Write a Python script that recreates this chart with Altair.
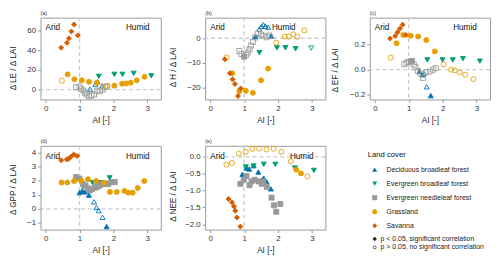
import altair as alt
import pandas as pd

LC = ["Deciduous broadleaf forest", "Evergreen broadleaf forest",
      "Evergreen needleleaf forest", "Grassland", "Savanna"]
COLORS = ["#0072B2", "#009E73", "#999999", "#E69F00", "#D55E00"]
SHAPES = ["triangle-up", "triangle-down", "square", "circle", "diamond"]
SIZES = [26, 26, 17, 19, 30]

# (AI, value, significant)
A_DBF = [(1.31, 0.5, 0), (1.47, 5.5, 0), (1.53, 8.0, 0), (1.67, 4.0, 0)]
A_EBF = [(1.57, 13.5, 1), (2.03, 15.5, 1), (2.27, 15.5, 1), (2.6, 16.5, 1), (3.12, 14.0, 1)]
A_ENF = [(0.9, 2.3, 0), (1.0, 3.0, 0), (1.05, 0.7, 0), (1.12, -1.0, 0), (1.17, -3.3, 0),
         (1.21, -5.0, 0), (1.28, -6.7, 0), (1.36, -6.0, 0), (1.43, -5.0, 0), (1.52, -1.0, 0),
         (1.6, -1.7, 0), (1.68, 0.0, 0), (1.75, 2.3, 0), (1.82, 3.3, 0)]
A_GRA = [(0.48, 9.0, 0), (0.65, 15.5, 1), (0.85, 10.5, 1), (1.07, 9.5, 1), (1.28, 8.0, 1),
         (1.52, 7.0, 1), (1.8, 3.5, 0), (2.03, 4.0, 1), (2.26, 6.0, 1), (2.38, 6.3, 1),
         (2.51, 7.0, 1), (2.69, 9.5, 1), (2.92, 13.0, 1)]
A_SAV = [(0.46, 42.5, 1), (0.63, 47.5, 1), (0.69, 52.0, 1), (0.76, 59.0, 1), (0.84, 66.0, 1), (0.95, 55.0, 1)]

B_DBF = [(1.34, 0.8, 1), (1.45, 3.8, 0), (1.51, 4.8, 0), (1.57, 5.6, 0), (1.63, 4.9, 0),
         (1.71, 4.5, 0), (1.8, 0.9, 1)]
B_EBF = [(1.45, -5.9, 1), (1.97, -3.9, 1), (2.22, -3.9, 1), (2.52, -4.3, 1), (2.98, -4.0, 0)]
B_ENF = [(0.86, -5.2, 0), (0.92, -6.4, 0), (1.0, -7.5, 1), (1.06, -6.8, 0), (1.11, -5.8, 0),
         (1.16, -4.5, 0), (1.2, -3.0, 0), (1.26, -1.5, 0), (1.32, 0.3, 0), (1.4, 1.8, 0),
         (1.5, 1.5, 0), (1.58, 1.0, 0), (1.67, 0.4, 0), (1.75, 1.1, 0)]
B_GRA = [(0.48, -7.8, 0), (0.65, -14.3, 1), (0.86, -21.6, 1), (1.05, -21.4, 1), (1.26, -22.3, 1),
         (1.5, -17.2, 1), (1.71, -12.4, 1), (1.95, -1.8, 0), (2.2, 0.7, 0), (2.32, 0.7, 0),
         (2.45, 1.6, 0), (2.57, 0.6, 0), (2.78, 3.2, 0)]
B_SAV = [(0.43, -8.6, 1), (0.58, -14.3, 1), (0.66, -16.8, 1), (0.73, -18.7, 1), (0.82, -23.6, 1), (0.9, -20.5, 1)]

C_DBF = [(1.31, -0.015, 1), (1.4, -0.04, 1), (1.45, -0.03, 0), (1.53, -0.135, 0), (1.65, -0.205, 1)]
C_EBF = [(1.55, 0.077, 1), (2.0, 0.077, 1), (2.3, 0.077, 1), (2.6, 0.087, 1), (3.1, 0.067, 1)]
C_ENF = [(0.87, 0.043, 0), (0.94, 0.055, 0), (1.0, 0.06, 0), (1.06, 0.066, 1), (1.1, 0.068, 1),
         (1.15, 0.04, 0), (1.2, 0.02, 0), (1.27, -0.01, 0), (1.35, -0.03, 0), (1.42, -0.065, 0),
         (1.52, -0.02, 0), (1.62, -0.015, 0), (1.72, 0.0, 0), (1.8, 0.012, 0)]
C_GRA = [(0.47, 0.095, 0), (0.64, 0.208, 1), (0.84, 0.273, 1), (1.06, 0.267, 1), (1.28, 0.262, 1),
         (1.52, 0.233, 1), (1.77, 0.144, 1), (2.03, 0.04, 0), (2.25, 0.0, 0), (2.36, -0.006, 0),
         (2.5, -0.022, 0), (2.67, -0.04, 0), (2.91, -0.074, 0)]
C_SAV = [(0.45, 0.245, 1), (0.6, 0.265, 1), (0.67, 0.295, 1), (0.74, 0.325, 1), (0.82, 0.355, 1), (0.92, 0.273, 1)]

D_DBF = [(1.0, 1.15, 1), (1.08, 1.28, 1), (1.16, 1.2, 1), (1.28, 0.97, 1), (1.43, 0.5, 0),
         (1.5, 0.1, 0), (1.57, -0.12, 0), (1.68, -0.6, 0), (1.8, -1.25, 1)]
D_EBF = [(1.11, 1.58, 1), (1.39, 1.85, 1), (1.5, 1.85, 1), (1.61, 1.85, 1), (1.73, 1.77, 1), (1.89, 2.2, 1)]
D_ENF = [(0.9, 2.25, 1), (1.0, 2.15, 1), (1.1, 1.75, 1), (1.18, 1.65, 1), (1.25, 1.45, 1),
         (1.3, 1.3, 1), (1.37, 1.4, 1), (1.45, 1.5, 1), (1.52, 1.55, 1), (1.6, 1.65, 1),
         (1.68, 1.75, 1), (1.77, 1.8, 1), (1.85, 1.75, 1), (1.94, 1.9, 1), (2.04, 1.9, 1)]
D_GRA = [(0.47, 1.87, 1), (0.64, 1.87, 1), (0.84, 1.97, 1), (1.05, 2.0, 1), (1.25, 2.1, 1),
         (1.49, 1.97, 1), (1.72, 1.85, 1), (1.9, 1.2, 1), (2.1, 1.2, 1), (2.33, 1.27, 1),
         (2.44, 1.15, 1), (2.57, 1.15, 1), (2.72, 1.48, 1), (2.91, 1.97, 1)]
D_SAV = [(0.46, 3.45, 1), (0.62, 3.5, 1), (0.68, 3.55, 1), (0.75, 3.7, 1), (0.83, 3.85, 1), (0.93, 3.75, 1)]

E_DBF = [(0.95, -0.52, 1), (1.07, -0.33, 1), (1.15, -0.36, 1), (1.28, -0.26, 1), (1.42, -0.45, 1),
         (1.53, -0.68, 1), (1.58, -0.63, 1), (1.66, -0.73, 1), (1.79, -0.95, 1)]
E_EBF = [(1.05, -0.3, 1), (1.28, -0.27, 1), (1.58, -0.22, 1), (1.92, -0.22, 1), (2.5, -0.33, 1), (3.06, -0.4, 1)]
E_ENF = [(0.89, -0.8, 1), (0.99, -0.68, 1), (1.07, -0.57, 1), (1.16, -0.84, 1), (1.22, -0.73, 1),
         (1.31, -0.68, 1), (1.43, -0.73, 1), (1.52, -0.8, 1), (1.57, -0.73, 1), (1.67, -0.89, 1),
         (1.81, -1.21, 1), (1.88, -1.44, 1), (1.95, -1.63, 1), (2.07, -1.4, 1)]
E_GRA = [(0.48, -0.23, 0), (0.64, -0.18, 0), (0.84, 0.1, 0), (1.05, 0.15, 0), (1.24, 0.24, 0),
         (1.44, 0.25, 0), (1.66, 0.22, 0), (1.87, 0.24, 0), (2.1, 0.15, 0), (2.38, -0.13, 0),
         (2.54, -0.38, 1), (2.68, -0.49, 1), (2.87, -0.58, 0)]
E_SAV = [(0.54, -1.25, 1), (0.64, -1.35, 1), (0.7, -1.47, 1), (0.74, -1.6, 1), (0.79, -1.8, 1), (0.89, -2.07, 1)]

LEGEND_LABELS = LC
P_LABELS = ["p < 0.05, significant correlation", "p > 0.05, no significant correlation"]

FONT = "Liberation Sans"
W = 122


def frame(series):
    rows = []
    for lc, pts in zip(LC, series):
        for ai, v, s in pts:
            rows.append({"lc": lc, "ai": ai, "val": v, "sig": s})
    return pd.DataFrame(rows)


def panel(series, label, ytitle, ydom, yticks, fmt, humid_x, title_x, title_y, h):
    df = frame(series)
    X = alt.X("ai:Q", scale=alt.Scale(domain=[-0.15, 3.4], nice=False, zero=False),
              axis=alt.Axis(values=[0, 1, 2, 3], title="AI [-]", format="d"))
    Y = alt.Y("val:Q", scale=alt.Scale(domain=ydom, nice=False, zero=False),
              axis=alt.Axis(values=yticks, format=fmt, title=ytitle,
                            titleX=title_x, titleY=title_y, titleBaseline="middle",
                            titleAlign="center"))
    ruleh = alt.Chart(pd.DataFrame({"val": [0]})).mark_rule(
        color="#cccccc", strokeDash=[4, 3], strokeWidth=1.4).encode(y=Y)
    rulev = alt.Chart(pd.DataFrame({"ai": [1]})).mark_rule(
        color="#cccccc", strokeDash=[4, 3], strokeWidth=1.4).encode(x=X)
    pts = alt.Chart(df).mark_point(strokeWidth=0.9, opacity=1).encode(
        x=X, y=Y,
        shape=alt.Shape("lc:N", scale=alt.Scale(domain=LC, range=SHAPES), legend=None),
        stroke=alt.Stroke("lc:N", scale=alt.Scale(domain=LC, range=COLORS), legend=None),
        fill=alt.condition("datum.sig == 1",
                           alt.Fill("lc:N", scale=alt.Scale(domain=LC, range=COLORS), legend=None),
                           alt.value("transparent")),
        size=alt.Size("lc:N", scale=alt.Scale(domain=LC, range=SIZES), legend=None),
    )
    arid = alt.Chart(pd.DataFrame({"ai": [0.0], "t": ["Arid"]})).mark_text(
        align="left", baseline="middle", fontSize=8.3, font=FONT, color="#111").encode(
        x=X, y=alt.value(11), text="t:N")
    humid = alt.Chart(pd.DataFrame({"ai": [humid_x], "t": ["Humid"]})).mark_text(
        align="center", baseline="middle", fontSize=8.3, font=FONT, color="#111").encode(
        x=X, y=alt.value(11), text="t:N")
    lab = alt.Chart(pd.DataFrame({"t": [label]})).mark_text(
        align="left", baseline="middle", fontSize=5.5, font=FONT, color="#333").encode(
        x=alt.value(0), y=alt.value(-5), text="t:N")
    return alt.layer(ruleh, rulev, pts, arid, humid, lab).properties(width=W, height=h)


H1 = 83
H2 = 85
pa = panel([A_DBF, A_EBF, A_ENF, A_GRA, A_SAV], "(a)", "Δ LE / Δ LAI", [-10, 73],
           [0, 20, 40, 60], "d", 2.72, -27, 51, H1)
pb = panel([B_DBF, B_EBF, B_ENF, B_GRA, B_SAV], "(b)", "Δ H / Δ LAI", [-25, 8.4],
           [-20, -10, 0], "d", 2.17, -32, 50, H1)
pc = panel([C_DBF, C_EBF, C_ENF, C_GRA, C_SAV], "(c)", "Δ EF / Δ LAI", [-0.235, 0.41],
           [-0.2, 0.0, 0.2], ".1f", 2.66, -35, 53, H1)
pd_ = panel([D_DBF, D_EBF, D_ENF, D_GRA, D_SAV], "(d)", "Δ GPP / Δ LAI", [-1.47, 4.47],
            [-1, 0, 1, 2, 3, 4], "d", 2.72, -27, 44, H2)
pe = panel([E_DBF, E_EBF, E_ENF, E_GRA, E_SAV], "(e)", "Δ NEE / Δ LAI", [-2.16, 0.33],
           [-2.0, -1.5, -1.0, -0.5, 0.0], ".1f", 2.7, -32, 51, H2)

# legend panel
SLOT_DOM = [-0.7, 5.28]
leg_df = pd.DataFrame({"lc": LEGEND_LABELS, "slot": [1, 2, 3, 4, 5]})
p_df = pd.DataFrame({"t": P_LABELS, "slot": [5.95, 6.55], "sig": [1, 0]})
ttl_df = pd.DataFrame({"t": ["Land cover"], "slot": [-0.05]})
YS = alt.Y("slot:Q", scale=alt.Scale(domain=SLOT_DOM, reverse=True, nice=False, zero=False), axis=None)

leg_sym = alt.Chart(leg_df).mark_point(filled=True, opacity=1).encode(
    x=alt.value(5), y=YS,
    shape=alt.Shape("lc:N", scale=alt.Scale(domain=LC, range=SHAPES), legend=None),
    color=alt.Color("lc:N", scale=alt.Scale(domain=LC, range=COLORS), legend=None),
    size=alt.Size("lc:N", scale=alt.Scale(domain=LC, range=SIZES), legend=None))
leg_txt = alt.Chart(leg_df).mark_text(align="left", baseline="middle", fontSize=7,
                                      font=FONT, color="#222").encode(
    x=alt.value(17), y=YS, text="lc:N")
p_sym = alt.Chart(p_df).mark_point(shape="circle", size=9, strokeWidth=0.7, opacity=1,
                                   stroke="#222").encode(
    x=alt.value(5), y=YS,
    fill=alt.condition("datum.sig == 1", alt.value("#222"), alt.value("transparent")))
p_txt = alt.Chart(p_df).mark_text(align="left", baseline="middle", fontSize=7,
                                  font=FONT, color="#222").encode(
    x=alt.value(11), y=YS, text="t:N")
ttl = alt.Chart(ttl_df).mark_text(align="left", baseline="middle", fontSize=7.8,
                                  font=FONT, color="#111").encode(
    x=alt.value(-2), y=YS, text="t:N")
leg = alt.layer(ttl, leg_sym, leg_txt, p_sym, p_txt).properties(
    width=W, height=H2, view=alt.ViewBackground(stroke="transparent"))

chart = alt.concat(pa, pb, pc, pd_, pe, leg, columns=3,
                   spacing=alt.RowColnumber(row=47, column=45), bounds="flush").properties(
    padding=0
).configure_view(stroke="#999999", strokeWidth=1).configure_axis(
    grid=False, domain=False, tickColor="#999999", tickSize=3, labelPadding=2,
    labelFontSize=8, labelFont=FONT, labelColor="#333", titleFontSize=8.3, titleFont=FONT,
    titleFontWeight="normal", titleColor="#222", titlePadding=4
).configure_axisX(titlePadding=3)

chart.save("out.html", embed_options={"renderer": "svg", "actions": False})
